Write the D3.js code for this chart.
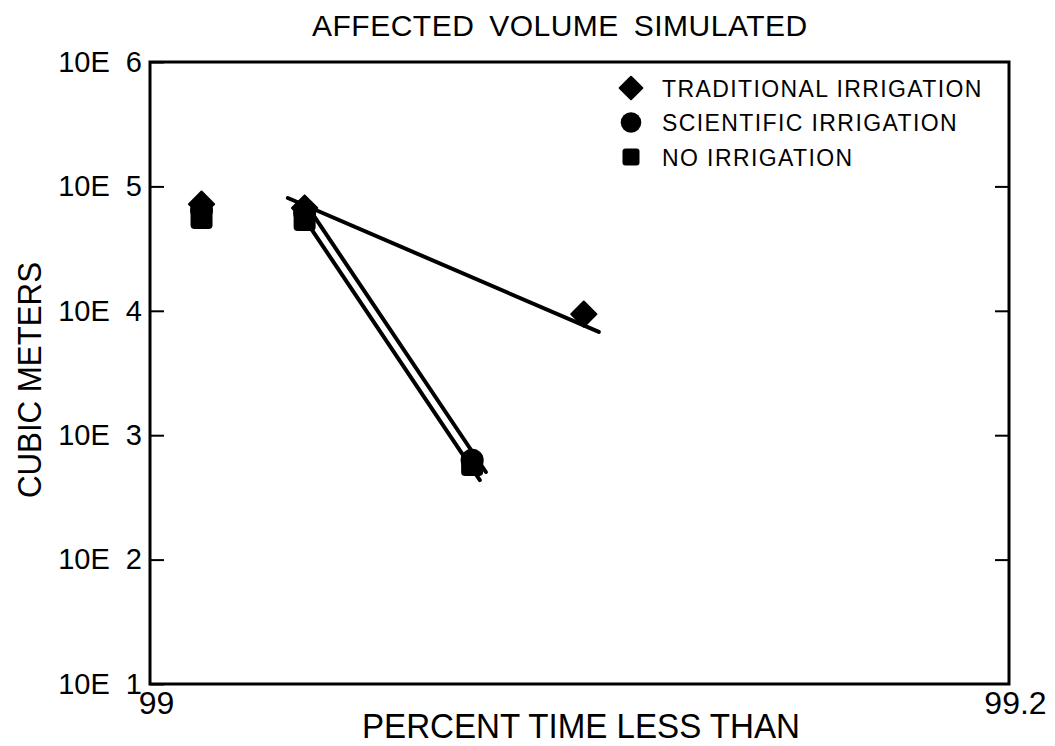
<!DOCTYPE html>
<html>
<head>
<meta charset="utf-8">
<script src="https://cdnjs.cloudflare.com/ajax/libs/d3/7.8.5/d3.min.js"></script>
<style>
  body { margin: 0; background: #fff; }
  text { font-family: "Liberation Sans", Arial, sans-serif; fill: #000; }
</style>
</head>
<body>
<script>
// data (x = percent time less than, y = cubic meters)
var series = ["TRADITIONAL IRRIGATION", "SCIENTIFIC IRRIGATION", "NO IRRIGATION"];
var symbols = ["diamond", "circle", "square"];

var tradX = [99.012, 99.036, 99.101];
var tradY = [72000, 67000, 9400];
var sciX = [99.012, 99.036, 99.075];
var sciY = [64600, 61000, 630];
var noX = [99.012, 99.036, 99.075];
var noY = [55700, 53700, 575];

// fitted lines, start and end points
var tradLineX = [99.0321, 99.1045];
var tradLineY = [80700, 6760];
var sciLineX = [99.0366, 99.0782];
var sciLineY = [69600, 506];
var noLineX = [99.0349, 99.0768];
var noLineY = [62300, 436];

var yTicks = [1e1, 1e2, 1e3, 1e4, 1e5, 1e6];
var xTicks = [99, 99.2];

var width = 1055;
var height = 746;
var margin = {left: 150, top: 62, right: 46, bottom: 62};

var svg = d3.select("body").append("svg").attr("width", width).attr("height", height);

var x = d3.scaleLinear().domain([99, 99.2]).range([margin.left, width - margin.right]);
var y = d3.scaleLog().domain([10, 1e6]).range([height - margin.bottom, margin.top]);

// title
svg.append("text")
    .attr("x", 312).attr("y", 36)
    .style("font-size", "30px")
    .style("letter-spacing", "0.5px")
    .style("word-spacing", "6px")
    .text("AFFECTED VOLUME SIMULATED");

// left axis with inward ticks
var yAxis = svg.append("g")
    .attr("transform", "translate(" + margin.left + ",0)")
    .call(d3.axisLeft(y).tickValues(yTicks).tickSize(-14).tickPadding(8)
        .tickFormat(function(d){ return "10E  " + Math.round(Math.log10(d)); }));
yAxis.select(".domain").remove();
yAxis.selectAll("line").attr("stroke", "#000").attr("stroke-width", 2);
yAxis.selectAll("text")
    .style("font-size", "29px")
    .style("white-space", "pre")
    .attr("font-family", null);

// right axis, ticks only
var yAxisR = svg.append("g")
    .attr("transform", "translate(" + (width - margin.right) + ",0)")
    .call(d3.axisRight(y).tickValues(yTicks.slice(1, 5)).tickSize(-14).tickFormat(""));
yAxisR.select(".domain").remove();
yAxisR.selectAll("line").attr("stroke", "#000").attr("stroke-width", 2);

// bottom axis labels
var xAxis = svg.append("g")
    .attr("transform", "translate(0," + (height - margin.bottom) + ")")
    .call(d3.axisBottom(x).tickValues(xTicks).tickSize(0).tickPadding(7)
        .tickFormat(function(d){ return d === 99 ? "99" : "99.2"; }));
xAxis.select(".domain").remove();
xAxis.selectAll("text")
    .attr("font-family", null)
    .attr("dx", 6)
    .style("font-size", "32px");

// frame
svg.append("rect")
    .attr("x", margin.left).attr("y", margin.top)
    .attr("width", width - margin.left - margin.right)
    .attr("height", height - margin.top - margin.bottom)
    .attr("fill", "none")
    .attr("stroke", "#000")
    .attr("stroke-width", 3);

// axis titles
svg.append("text")
    .attr("transform", "translate(41,380) rotate(-90)")
    .attr("text-anchor", "middle")
    .attr("textLength", 236)
    .attr("lengthAdjust", "spacingAndGlyphs")
    .style("font-size", "34px")
    .text("CUBIC METERS");

svg.append("text")
    .attr("x", 362).attr("y", 738)
    .attr("textLength", 438)
    .attr("lengthAdjust", "spacingAndGlyphs")
    .style("font-size", "35px")
    .text("PERCENT TIME LESS THAN");

// fitted lines
function drawLine(xs, ys){
    var pts = xs.map(function(v, i){ return [x(v), y(ys[i])]; });
    svg.append("path")
        .attr("d", d3.line()(pts))
        .attr("fill", "none")
        .attr("stroke", "#000")
        .attr("stroke-width", 4)
        .attr("stroke-linecap", "round");
}
drawLine(tradLineX, tradLineY);
drawLine(sciLineX, sciLineY);
drawLine(noLineX, noLineY);

// markers
var symbolSize = {diamond: 320, circle: 415};
function symbolPath(kind, scale){
    var s = symbolSize[kind] * (scale || 1);
    if (kind === "diamond") return d3.symbol().type(d3.symbolSquare).size(s)();
    return d3.symbol().type(d3.symbolCircle).size(s)();
}
function drawPoints(xs, ys, kind){
    xs.forEach(function(v, i){
        var g = svg.append("g").attr("transform", "translate(" + x(v) + "," + y(ys[i]) + ")");
        if (kind === "square") {
            g.append("rect").attr("x", -11).attr("y", -11).attr("width", 22).attr("height", 22)
                .attr("rx", 4).attr("fill", "#000");
        } else if (kind === "diamond") {
            g.append("path").attr("d", symbolPath(kind)).attr("transform", "rotate(45)")
                .attr("fill", "#000").attr("stroke", "#000").attr("stroke-width", 2).attr("stroke-linejoin", "round");
        } else {
            g.append("path").attr("d", symbolPath(kind)).attr("fill", "#000");
        }
    });
}
drawPoints(noX, noY, "square");
drawPoints(sciX, sciY, "circle");
drawPoints(tradX, tradY, "diamond");

// legend
var legend = svg.append("g");
series.forEach(function(name, i){
    var cy = 88 + i * 34.5;
    var g = legend.append("g").attr("transform", "translate(631," + cy + ")");
    if (symbols[i] === "square") {
        g.append("rect").attr("x", -8.5).attr("y", -8.5).attr("width", 17).attr("height", 17)
            .attr("rx", 3).attr("fill", "#000");
    } else if (symbols[i] === "diamond") {
        g.append("path").attr("d", symbolPath("diamond", 0.8)).attr("transform", "rotate(45)")
            .attr("fill", "#000").attr("stroke", "#000").attr("stroke-width", 2).attr("stroke-linejoin", "round");
    } else {
        g.append("path").attr("d", symbolPath("circle", 0.8)).attr("fill", "#000");
    }
    legend.append("text")
        .attr("x", 662).attr("y", cy + 8.5)
        .style("font-size", "23px")
        .style("letter-spacing", "1.4px")
        .text(name);
});
</script>
</body>
</html>
